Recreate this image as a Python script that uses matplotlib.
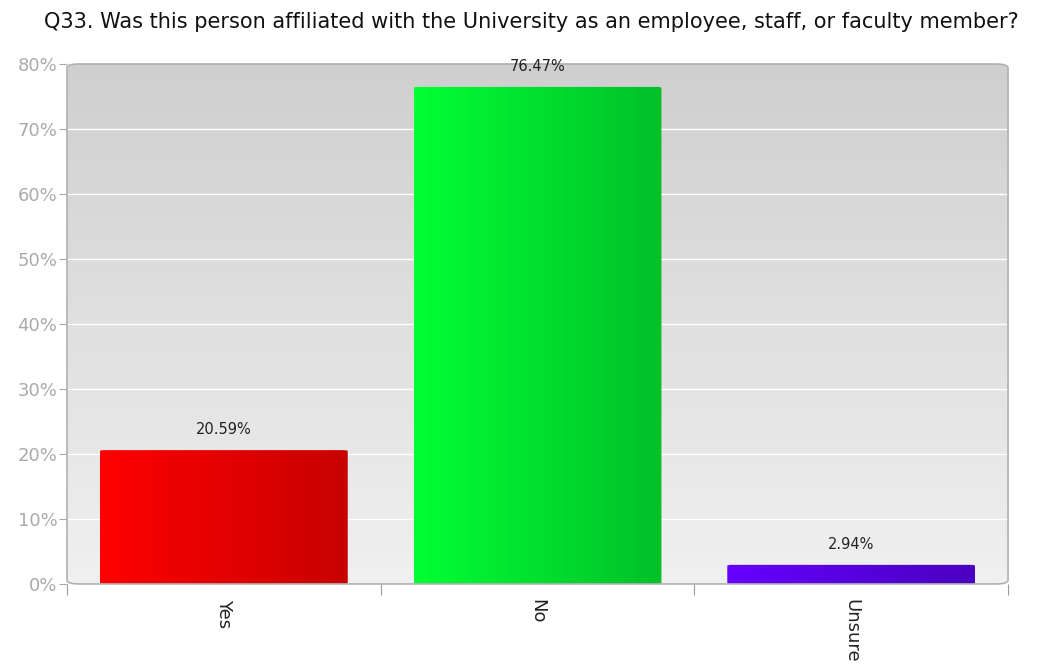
import numpy as np
import matplotlib
matplotlib.use('Agg')
import matplotlib.pyplot as plt
from matplotlib.patches import FancyBboxPatch
from matplotlib.colors import LinearSegmentedColormap

title = 'Q33. Was this person affiliated with the University as an employee, staff, or faculty member?'
categories = ['Yes', 'No', 'Unsure']
values = [20.59, 76.47, 2.94]
labels = ['20.59%', '76.47%', '2.94%']
colors = [('#ff0000', '#c80000'), ('#00ff33', '#00c02a'), ('#6600ff', '#4a00c0')]
yticks = [0, 10, 20, 30, 40, 50, 60, 70, 80]

fig = plt.figure(figsize=(10.42, 6.72), dpi=100)
ax = fig.add_axes([0.0643, 0.131, 0.9031, 0.7738])
ax.set_xlim(0, 3)
ax.set_ylim(0, 80)

# background gradient, rounded box
bg = FancyBboxPatch((0, 0), 3, 80, boxstyle='round,pad=0,rounding_size=0.04',
                    mutation_aspect=80 / 3 * 0.55, fc='none', ec='#b0b0b0', lw=1.2,
                    transform=ax.transData, zorder=3, clip_on=False)
ax.add_patch(bg)
grad = np.linspace(0, 1, 256).reshape(-1, 1)
bgcmap = LinearSegmentedColormap.from_list('bg', ['#f0f0f0', '#cfcfcf'])
im = ax.imshow(grad, cmap=bgcmap, extent=(0, 3, 0, 80), aspect='auto',
               origin='lower', zorder=0)
im.set_clip_path(bg)

for y in yticks[1:-1]:
    ax.axhline(y, color='white', lw=1, zorder=1)

bar_w = 0.79
hgrad = np.linspace(0, 1, 256).reshape(1, -1)
for i, (v, lab, c) in enumerate(zip(values, labels, colors)):
    x0 = i + 0.5 - bar_w / 2
    cm = LinearSegmentedColormap.from_list('b%d' % i, list(c))
    box = FancyBboxPatch((x0, 0), bar_w, v, boxstyle='round,pad=0,rounding_size=0.012',
                         mutation_aspect=80 / 3 * 0.55, fc='none', ec='none',
                         transform=ax.transData)
    ax.add_patch(box)
    bim = ax.imshow(hgrad, cmap=cm, extent=(x0, x0 + bar_w, 0, v), aspect='auto', zorder=2)
    bim.set_clip_path(box)
    ax.text(i + 0.5, v + 2.0, lab, ha='center', va='bottom', fontsize=10.5,
            color='#222222', zorder=4)

ax.set_xlim(0, 3)
ax.set_ylim(0, 80)
for s in ax.spines.values():
    s.set_visible(False)

ax.set_yticks(yticks)
ax.set_yticklabels(['%d%%' % t for t in yticks], color='#aaaaaa', fontsize=13)
ax.tick_params(axis='y', length=6, color='#aaaaaa', pad=1)

ax.set_xticks([0, 1, 2, 3])
ax.set_xticklabels([])
ax.tick_params(axis='x', length=8, color='#999999', direction='out')
for i, cat in enumerate(categories):
    ax.text(i + 0.5, -2.3, cat, rotation=-90, ha='center', va='top', fontsize=13,
            color='#222222')

fig.text(0.51, 0.967, title, ha='center', va='center', fontsize=15, color='#111111')

fig.savefig('out.png', dpi=100)
